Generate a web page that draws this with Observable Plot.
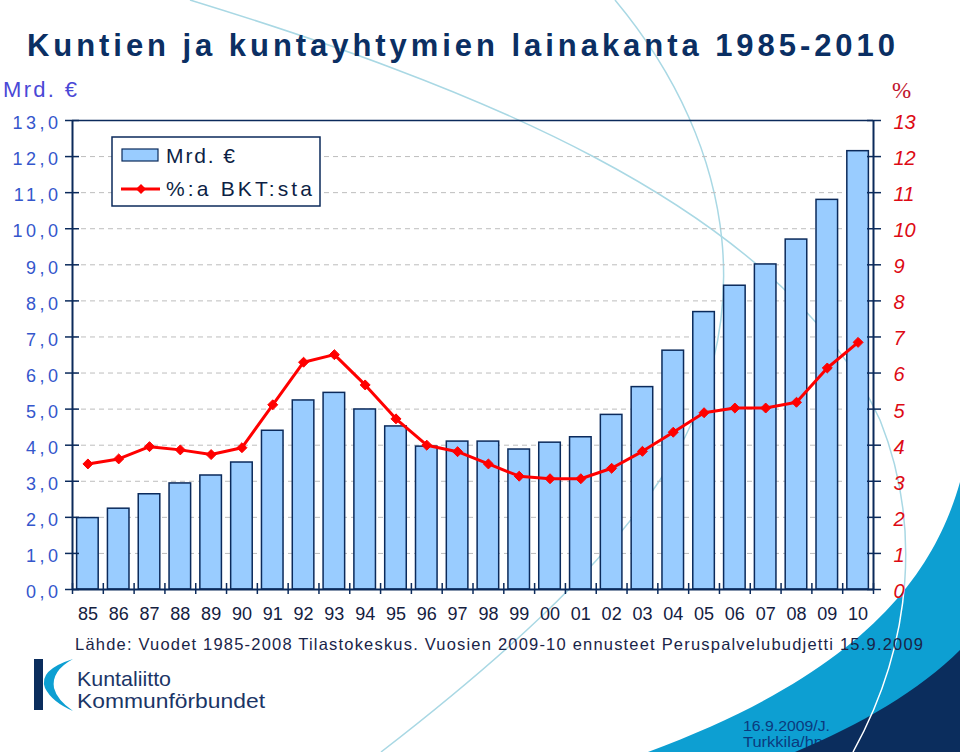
<!DOCTYPE html>
<html>
<head>
<meta charset="utf-8">
<script src="https://cdn.jsdelivr.net/npm/d3@7"></script>
<script src="https://cdn.jsdelivr.net/npm/@observablehq/plot@0.6"></script>
<style>
  body { margin: 0; background: #fff; }
  #page { position: relative; width: 960px; height: 752px; overflow: hidden; font-family: "Liberation Sans", Arial, sans-serif; }
  #bg, #overlay { position: absolute; left: 0; top: 0; }
  #chart { position: absolute; left: 0; top: 100px; }
  #overlay { pointer-events: none; }
</style>
</head>
<body>
<div id="page">
  <svg id="bg" width="960" height="752" xmlns="http://www.w3.org/2000/svg">
    <defs>
      <clipPath id="cyanClip"><path d="M960,482 C935,570 870,670 648,752 L960,752 Z"/></clipPath>
    </defs>
    <path d="M615,0 C740,150 760,330 660,480 C600,570 500,660 381,752" fill="none" stroke="#a9d8e4" stroke-width="1.5"/>
    <path d="M190,0 C450,80 780,200 880,420 C920,520 915,640 853,752" fill="none" stroke="#a9d8e4" stroke-width="1.5"/>
    <path d="M960,482 C935,570 870,670 648,752 L960,752 Z" fill="#0d9fd2"/>
    <text x="743" y="731" font-size="14" fill="#0b3a7e" textLength="87" lengthAdjust="spacingAndGlyphs">16.9.2009/J.</text>
    <text x="743" y="747" font-size="14" fill="#0b3a7e" textLength="80" lengthAdjust="spacingAndGlyphs">Turkkila/hp</text>
    <path d="M960,650 C920,690 860,725 795,752 L960,752 Z" fill="#0b2d5d"/>
    <path d="M190,0 C450,80 780,200 880,420 C920,520 915,640 853,752" fill="none" stroke="#ffffff" stroke-width="1.5" clip-path="url(#cyanClip)"/>
  </svg>
  <div id="chart"></div>
  <svg id="overlay" width="960" height="752" xmlns="http://www.w3.org/2000/svg" font-family="Liberation Sans, Arial, sans-serif">
    <text id="title" x="27" y="56" font-size="31" font-weight="bold" fill="#0b2f63" textLength="868" lengthAdjust="spacing">Kuntien ja kuntayhtymien lainakanta 1985-2010</text>
    <text x="3" y="97" font-size="22" fill="#4a48d6" textLength="74" lengthAdjust="spacing">Mrd. €</text>
    <text x="892" y="98" font-size="23" font-family="Liberation Serif, Times New Roman, serif" fill="#c0142c">%</text>
    <g id="legend">
      <rect x="112" y="137" width="208" height="69" fill="#ffffff" stroke="#0b2a5b" stroke-width="1.5"/>
      <rect x="122" y="149" width="36" height="12" fill="#99ccff" stroke="#0b2a5b" stroke-width="1.2"/>
      <text x="166" y="163" font-size="21" fill="#0d1f45" textLength="69" lengthAdjust="spacing">Mrd. €</text>
      <line x1="121" x2="160" y1="189" y2="189" stroke="#ff0000" stroke-width="3"/>
      <path d="M141,184 L146,189 L141,194 L136,189 Z" fill="#ff0000"/>
      <text x="166" y="196" font-size="21" fill="#0d1f45" textLength="146" lengthAdjust="spacing">%:a BKT:sta</text>
    </g>
    <text x="75" y="650" font-size="16.5" fill="#1a2448" textLength="848" lengthAdjust="spacing">Lähde: Vuodet 1985-2008 Tilastokeskus. Vuosien 2009-10 ennusteet Peruspalvelubudjetti 15.9.2009</text>
    <g id="logo">
      <rect x="34" y="659" width="9" height="51" fill="#0b2d5d"/>
      <path d="M73,659 Q38,670 45,688 Q52,702 73,711 Q57,700 54,688 Q51,671 73,659 Z" fill="#0d9fd2"/>
      <text x="77" y="686" font-size="21" fill="#1b3566" textLength="94" lengthAdjust="spacingAndGlyphs">Kuntaliitto</text>
      <text x="77" y="708" font-size="21" fill="#1b3566" textLength="188" lengthAdjust="spacingAndGlyphs">Kommunförbundet</text>
    </g>
  </svg>
</div>
<script>
// ---- data ----
const years = ["85","86","87","88","89","90","91","92","93","94","95","96","97","98","99","00","01","02","03","04","05","06","07","08","09","10"];
const loanStock = [1.98, 2.24, 2.64, 2.94, 3.16, 3.52, 4.40, 5.24, 5.45, 4.99, 4.52, 3.96, 4.10, 4.10, 3.88, 4.07, 4.22, 4.84, 5.61, 6.62, 7.69, 8.42, 9.01, 9.70, 10.80, 12.15];
const shareOfGDP = [3.48, 3.62, 3.96, 3.87, 3.74, 3.93, 5.12, 6.30, 6.51, 5.67, 4.73, 4.00, 3.82, 3.48, 3.14, 3.07, 3.07, 3.36, 3.83, 4.36, 4.90, 5.03, 5.03, 5.19, 6.14, 6.85];
const yTicks = [0,1,2,3,4,5,6,7,8,9,10,11,12,13];
const gridTicks = [1,2,3,4,5,6,7,8,9,10,11,12];

const rows = years.map((year, i) => ({year, loans: loanStock[i], share: shareOfGDP[i]}));

const W = 960, H = 540, mL = 72, mR = 87, mT = 20, mB = 51;
const step = (W - mL - mR) / years.length;
const navy = "#0b2a5b";

const chart = Plot.plot({
  width: W, height: H,
  marginLeft: mL, marginRight: mR, marginTop: mT, marginBottom: mB,
  style: {background: "transparent", fontFamily: "Liberation Sans, Arial, sans-serif", overflow: "visible"},
  x: {type: "band", domain: years, paddingInner: 0.3, paddingOuter: 0.15, round: false, label: null},
  y: {domain: [0, 13], label: null},
  marks: [
    Plot.gridY(gridTicks, {stroke: "#bdbdbd", strokeOpacity: 1, strokeDasharray: "5,4", strokeWidth: 1}),
    Plot.barY(rows, {x: "year", y: "loans", fill: "#99ccff", stroke: navy, strokeWidth: 1.5}),
    Plot.ruleY([0], {stroke: navy, strokeWidth: 2}),
    Plot.ruleY([13], {stroke: navy, strokeWidth: 1.5}),
    Plot.ruleX([years[0]], {x: d => d, dx: -step / 2, stroke: navy, strokeWidth: 2}),
    Plot.ruleX([years[years.length - 1]], {x: d => d, dx: step / 2, stroke: navy, strokeWidth: 2}),
    Plot.ruleX(years, {x: d => d, dx: -step / 2, insetTop: H - mT - mB - 6, insetBottom: -5, stroke: navy, strokeWidth: 1.5}),
    Plot.ruleX([years[years.length - 1]], {x: d => d, dx: step / 2, insetTop: H - mT - mB - 6, insetBottom: -5, stroke: navy, strokeWidth: 1.5}),
    Plot.axisY({anchor: "left", ticks: yTicks, tickSize: 14, dx: 7, tickFormat: () => "", label: null, stroke: navy, strokeWidth: 1.5}),
    Plot.axisY({anchor: "right", ticks: yTicks, tickSize: 14, dx: -7, tickFormat: () => "", label: null, stroke: navy, strokeWidth: 1.5}),
    Plot.lineY(rows, {x: "year", y: "share", stroke: "#ff0000", strokeWidth: 3}),
    Plot.dot(rows, {x: "year", y: "share", symbol: "diamond2", r: 4.5, fill: "#ff0000", stroke: "#ff0000", strokeWidth: 1}),
    Plot.axisY({anchor: "left", ticks: yTicks, tickSize: 0, tickPadding: 11, dy: 3, label: null,
      tickFormat: d => d.toFixed(1).replace(".", ","), fill: "#3456cc", fontSize: 18}),
    Plot.axisY({anchor: "right", ticks: yTicks, tickSize: 0, tickPadding: 20, dy: 2, label: null,
      tickFormat: d => String(d), fill: "#dd0a14", fontSize: 20, fontStyle: "italic"}),
    Plot.axisX({tickSize: 0, tickPadding: 18, label: null, fill: "#14203f", fontSize: 18})
  ]
});
document.getElementById("chart").appendChild(chart);

// letter spacing for the left-hand tick labels (as in the original slide)
chart.querySelectorAll('g[aria-label="y-axis tick label"]').forEach(g => {
  if (g.getAttribute("text-anchor") === "end") {
    g.querySelectorAll("text").forEach(t => t.setAttribute("letter-spacing", "3.5"));
  }
});
</script>
</body>
</html>
